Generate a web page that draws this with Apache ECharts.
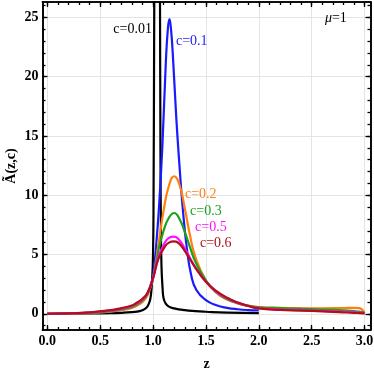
<!DOCTYPE html>
<html><head><meta charset="utf-8">
<script src="https://cdn.jsdelivr.net/npm/echarts@6/dist/echarts.min.js"></script>
<style>html,body{margin:0;padding:0;background:#fff}#c{width:374px;height:368px}</style>
</head><body><div id="c"></div>
<script>
// ---- data ----
const zBlack = [0,0.2,0.4,0.6,0.7,0.8,0.85,0.88,0.9,0.93,0.95,0.97,0.98,0.99,1.0,1.005,1.01,1.02,1.03,1.04,1.05,1.06,1.066,1.07,1.075,1.08,1.09,1.1,1.12,1.15,1.2,1.3,1.4,1.5,1.7,2.0];
const vBlack = [0,0.01,0.02,0.05,0.08,0.13,0.18,0.24,0.3,0.45,0.65,1.1,1.6,2.6,5,10,22,45,60,62,55,35,26,14,7,4,2.2,1.3,0.85,0.6,0.45,0.3,0.22,0.17,0.1,0.05];

const zBlue = [0,0.2,0.4,0.6,0.7,0.8,0.85,0.9,0.95,0.98,1.0,1.03,1.06,1.09,1.12,1.14,1.155,1.17,1.19,1.22,1.25,1.28,1.32,1.36,1.41,1.5,1.6,1.7,1.8,1.9,2.0];
const vBlue = [0,0.03,0.08,0.2,0.32,0.55,0.75,1.05,1.8,2.5,3.2,5.8,9.5,14.5,21.0,24.0,24.85,24.0,21.4,16.5,12.5,9.0,5.5,3.3,2.0,1.15,0.72,0.5,0.38,0.31,0.28];

const zWide = [0,0.2,0.4,0.6,0.7,0.8,0.85,0.9,0.95,1.0,1.05,1.1,1.15,1.2,1.25,1.3,1.35,1.4,1.5,1.6,1.7,1.8,1.9,2.0,2.2,2.4,2.6,2.8,2.9,2.95,3.0];
const vOrange  = [0,0.015,0.06,0.18,0.3,0.5,0.7,1.0,1.6,3.0,5.8,8.7,10.8,11.6,10.9,8.9,6.6,4.8,2.8,1.75,1.2,0.88,0.68,0.56,0.5,0.47,0.46,0.48,0.5,0.48,0.05];
const vGreen   = [0,0.02,0.08,0.22,0.36,0.58,0.8,1.12,1.7,3.0,5.3,7.0,8.1,8.5,8.0,6.9,5.6,4.4,2.8,1.8,1.25,0.9,0.68,0.55,0.47,0.42,0.36,0.28,0.22,0.18,0.1];
const vMagenta = [0,0.02,0.1,0.27,0.42,0.65,0.88,1.2,1.75,3.0,4.8,5.8,6.4,6.5,6.2,5.5,4.7,3.9,2.7,1.85,1.3,0.92,0.65,0.47,0.36,0.3,0.24,0.17,0.13,0.1,0.03];
const vRed     = [0,0.03,0.12,0.3,0.48,0.7,0.95,1.26,1.8,3.0,4.6,5.5,6.0,6.1,5.9,5.3,4.6,3.9,2.7,1.9,1.35,0.95,0.65,0.45,0.33,0.27,0.2,0.12,0.08,0.05,0.02];

const xMajor = [0,0.5,1,1.5,2,2.5,3];
const yMajor = [0,5,10,15,20,25];
const xMinor = []; for (let i = 0; i <= 30; i++) xMinor.push(+(i/10).toFixed(1));
const yMinor = []; for (let i = -1; i <= 26; i++) yMinor.push(i);

const seriesNames = ['c=0.01','c=0.1','c=0.2','c=0.3','c=0.5','c=0.6'];
const seriesColors = ['#000000','#1a1aff','#ff8010','#1ea01e','#ff10ff','#b0101a'];
const yTitle = 'Ã(z,c)';
const xTitle = 'z';

const annotations = [
  {text:'c=0.01', at:[0.99,24.0], align:'right', color:'#000'},
  {text:'c=0.1',  at:[1.217,23.0], align:'left', color:'#1a1aff'},
  {text:'{i|μ}=1', at:[2.625,24.96], align:'left', color:'#000'},
  {text:'c=0.2',  at:[1.302,10.1], align:'left', color:'#ff8010'},
  {text:'c=0.3',  at:[1.35,8.67], align:'left', color:'#1ea01e'},
  {text:'c=0.5',  at:[1.397,7.32], align:'left', color:'#ff10ff'},
  {text:'c=0.6',  at:[1.444,5.97], align:'left', color:'#b0101a'}
];
// ---------------------------------------

const XMIN = -0.045, XMAX = 3.056, YMIN = -1.37, YMAX = 26.3;
const serif = '"Liberation Serif","DejaVu Serif",serif';
const fmt1 = v => v.toFixed(1);

function pairs(z, v){ return z.map((x,i)=>[x, v[i]]); }
const dataSets = [pairs(zBlack,vBlack), pairs(zBlue,vBlue), pairs(zWide,vOrange), pairs(zWide,vGreen), pairs(zWide,vMagenta), pairs(zWide,vRed)];

function xAx(pos, major, showLabel, extra){
  return Object.assign({
    type:'value', min:XMIN, max:XMAX, position:pos,
    axisLine:{show:true, onZero:false, lineStyle:{color:'#000', width:1.6}},
    axisTick:{show:true, inside:true, length: major?5:3, customValues: major?xMajor:xMinor, lineStyle:{color:'#000', width:1.3}},
    axisLabel:{show:showLabel, customValues:xMajor, formatter:fmt1, fontFamily:serif, fontWeight:'bold', fontSize:14, color:'#000', margin:4},
    splitLine:{show:false}
  }, extra||{});
}
function yAx(pos, major, showLabel, extra){
  return Object.assign({
    type:'value', min:YMIN, max:YMAX, position:pos,
    axisLine:{show:true, onZero:false, lineStyle:{color:'#000', width:1.6}},
    axisTick:{show:true, inside:true, length: major?5:3, customValues: major?yMajor:yMinor, lineStyle:{color:'#000', width:1.3}},
    axisLabel:{show:showLabel, customValues:yMajor, fontFamily:serif, fontWeight:'bold', fontSize:14, color:'#000', margin:4},
    splitLine:{show:false}
  }, extra||{});
}

const chart = echarts.init(document.getElementById('c'), null, {renderer:'canvas'});
chart.setOption({
  animation:false,
  backgroundColor:'#fff',
  grid:{left:42.5, right:3.5, top:2, bottom:38, containLabel:false, outerBoundsMode:'none'},
  xAxis:[
    xAx('bottom', true, true, {name:xTitle, nameLocation:'middle', nameGap:27, nameTextStyle:{fontFamily:serif, fontWeight:'bold', fontSize:14, color:'#000'},
      splitLine:{show:true, lineStyle:{color:'#e4e4e4', width:1}}}),
    xAx('bottom', false, false),
    xAx('top', true, false),
    xAx('top', false, false)
  ],
  yAxis:[
    yAx('left', true, true, {splitLine:{show:true, lineStyle:{color:'#e4e4e4', width:1}}}),
    yAx('left', false, false),
    yAx('right', true, false),
    yAx('right', false, false)
  ],
  series: dataSets.map((d,i)=>({
    type:'line', name:seriesNames[i], data:d, xAxisIndex:0, yAxisIndex:0,
    showSymbol:false, smooth:0.5, clip:true,
    lineStyle:{color:seriesColors[i], width:2.2}, z:2+i
  }))
});

const g = annotations.map(a=>{
  const p = chart.convertToPixel({gridIndex:0}, a.at);
  return {type:'text', x:p[0], y:p[1], z:100,
    style:{text:a.text, fill:a.color, font:'14px '+serif, align:a.align, verticalAlign:'middle',
      rich:{i:{fontStyle:'italic', fontFamily:serif, fontSize:14, fill:a.color}}}};
});
g.push({type:'text', x:11, y:166, rotation:Math.PI/2, z:100,
  style:{text:yTitle, fill:'#000', font:'bold 14px '+serif, align:'center', verticalAlign:'middle'}});
chart.setOption({graphic:g});
</script></body></html>
